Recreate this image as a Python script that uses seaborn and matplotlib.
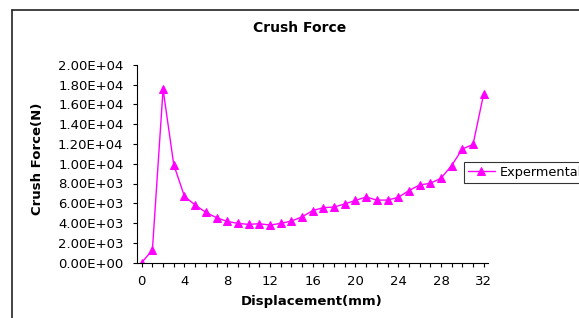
import matplotlib
matplotlib.use("Agg")
import matplotlib.pyplot as plt
import matplotlib.ticker as mticker
from matplotlib.lines import Line2D
import pandas as pd
import seaborn as sns

# data
displacement = list(range(0, 33))
crush_force = [0, 1250, 17550, 9900, 6700, 5820, 5080, 4540, 4160, 3960, 3860,
               3930, 3790, 3960, 4190, 4620, 5260, 5550, 5620, 5920, 6290,
               6630, 6320, 6320, 6600, 7280, 7850, 8020, 8530, 9820, 11500,
               11950, 17100]
series_name = "Expermental"

df = pd.DataFrame({"Displacement": displacement, "CrushForce": crush_force})

sns.set_style("ticks")
plt.rcParams["font.family"] = ["DejaVu Sans"]
plt.rcParams["text.color"] = "black"
plt.rcParams["xtick.color"] = "black"
plt.rcParams["ytick.color"] = "black"

W, H = 579, 318
fig = plt.figure(figsize=(W / 100, H / 100), dpi=100)
ax = fig.add_axes([137 / W, 1 - 262.5 / H, (488 - 137) / W, (262.5 - 65) / H])

sns.lineplot(data=df, x="Displacement", y="CrushForce", ax=ax,
             color="#ff00ff", linewidth=1.0, marker="^", markersize=5.2,
             markeredgecolor="#ff00ff", label=series_name)

ax.set_xlim(-0.44, 32.4)
ax.set_ylim(0, 20000)
ax.xaxis.set_major_locator(mticker.MultipleLocator(4))
ax.xaxis.set_minor_locator(mticker.MultipleLocator(1))
ax.yaxis.set_major_locator(mticker.MultipleLocator(2000))
ax.yaxis.set_major_formatter(mticker.FuncFormatter(lambda v, p: "%.2E" % v))
ax.tick_params(axis="both", which="both", direction="out", length=3.2,
               width=0.8, color="black", labelcolor="black", labelsize=9.5,
               bottom=True, left=True)
ax.tick_params(axis="y", pad=6.5)
ax.tick_params(axis="x", which="major", pad=6)
sns.despine(ax=ax)
for s in ("left", "bottom"):
    ax.spines[s].set_color("black")
    ax.spines[s].set_linewidth(0.8)

ax.set_xlabel("")
ax.set_ylabel("")
fig.text(312 / W, 1 - 302 / H, "Displacement(mm)", ha="center", va="center",
         fontsize=9.5, fontweight="bold", color="black")
fig.text(37 / W, 1 - 159 / H, "Crush Force(N)", ha="center", va="center",
         rotation=90, fontsize=9.5, fontweight="bold", color="black")
fig.text(300 / W, 1 - 28 / H, "Crush Force", ha="center", va="center",
         fontsize=10, fontweight="bold", color="black")

# legend runs off the right edge, as in the reference
leg = ax.legend(loc="upper left", bbox_to_anchor=(464 / W, 1 - 162 / H),
                bbox_transform=fig.transFigure, frameon=True, fancybox=False,
                fontsize=9.3, handlelength=2.1, handletextpad=0.35,
                borderpad=0.3, borderaxespad=0)
leg.get_frame().set_edgecolor("black")
leg.get_frame().set_linewidth(0.8)
for t in leg.get_texts():
    t.set_color("black")

# chart area border (runs off the right and bottom edge)
fig.add_artist(Line2D([12 / W, 12 / W], [0, 1 - 10 / H], color="#222222",
                      linewidth=1.2, transform=fig.transFigure))
fig.add_artist(Line2D([12 / W, 1], [1 - 10 / H, 1 - 10 / H], color="#222222",
                      linewidth=1.2, transform=fig.transFigure))

fig.savefig("out.png", dpi=100)
